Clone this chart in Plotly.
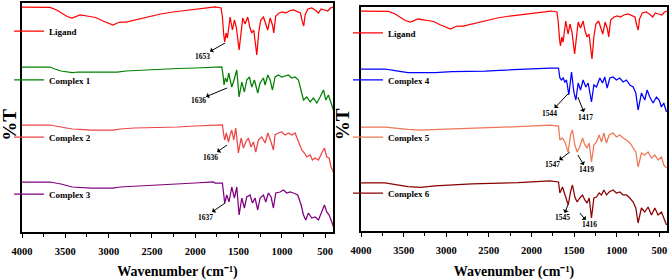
import plotly.graph_objects as go

# ---------------- data (depth below panel top) ----------------
lig_wn = [4000, 3800, 3677, 3600, 3538, 3480, 3423, 3380, 3330, 3250, 3150, 3065, 3000, 2949, 2900, 2868,
          2800, 2700, 2600, 2487, 2400, 2256, 2100, 2002, 1900, 1794, 1771, 1702, 1687, 1671, 1660, 1644,
          1629, 1598, 1571, 1548, 1525, 1494, 1471, 1452, 1425, 1394, 1371, 1348, 1325, 1290, 1267, 1244,
          1213, 1186, 1163, 1136, 1109, 1094, 1071, 1032, 994, 955, 917, 867, 817, 786, 763, 748, 732, 701,
          655, 617, 578, 547, 509, 470, 440, 405]
lig_d = [4, 4, 4.3, 7, 10, 13.5, 15, 13.5, 12, 13, 14.5, 18, 20, 22, 20, 19,
         19, 17, 15, 13, 11, 9, 7.5, 6, 5, 4, 4, 5, 14, 32, 39, 30,
         35, 14, 27, 17, 25, 47, 27, 15, 21, 14, 24, 30, 27, 52, 29, 17,
         14, 22, 27, 15, 22, 30, 13, 10, 9, 10, 8, 7, 9, 10, 19, 23, 12, 6,
         5, 7, 10, 6, 7, 8, 5, 4]

c1_wn = [4000, 3800, 3677, 3620, 3550, 3420, 3350, 3200, 3050, 2949, 2900, 2800, 2600, 2400, 2200, 2002,
         1800, 1771, 1694, 1679, 1668, 1652, 1633, 1614, 1594, 1579, 1552, 1521, 1494, 1463, 1433, 1406,
         1375, 1348, 1317, 1279, 1252, 1213, 1194, 1163, 1136, 1109, 1079, 1040, 1002, 963, 925, 886, 848,
         809, 778, 751, 713, 674, 636, 597, 559, 520, 493, 463, 432, 405]
c1_d = [64, 64, 64, 66, 68, 69.5, 69, 69, 69, 69.5, 69, 68, 67, 66, 65.5, 65,
        64, 64, 64, 72, 82, 75, 79, 70, 77, 84, 77, 67, 94, 79, 89, 77,
        74, 84, 77, 90, 80, 75, 82, 72, 77, 87, 74, 72, 74, 73, 72, 75, 74,
        77, 87, 97, 94, 99, 95, 100, 94, 87, 97, 92, 100, 107]

c2_wn = [4000, 3677, 3550, 3420, 3330, 3200, 2949, 2868, 2700, 2500, 2200, 2002, 1794, 1771, 1687, 1671,
         1660, 1641, 1617, 1598, 1579, 1556, 1533, 1502, 1471, 1444, 1417, 1387, 1356, 1329, 1302, 1271,
         1233, 1194, 1163, 1125, 1098, 1079, 1040, 1002, 963, 925, 886, 848, 809, 771, 740, 713, 674, 647,
         617, 578, 540, 509, 482, 455, 432, 405]
c2_d = [122, 122, 124, 126, 126.3, 127, 127, 126, 125, 124.7, 124, 123, 122, 122, 122, 132,
        137, 130, 139, 132, 127, 137, 125, 150, 135, 145, 139, 135, 144, 139, 149, 137,
        134, 140, 130, 139, 147, 132, 130, 129, 132, 130, 132, 130, 139, 147, 150, 154, 152, 157,
        155, 157, 150, 145, 154, 155, 164, 169]

c3_wn = [4000, 3677, 3550, 3420, 3200, 2949, 2868, 2500, 2002, 1794, 1771, 1687, 1671, 1660, 1637, 1610,
         1579, 1548, 1521, 1494, 1463, 1433, 1406, 1367, 1340, 1310, 1279, 1252, 1213, 1186, 1156, 1125,
         1098, 1071, 1021, 982, 944, 905, 867, 817, 778, 751, 725, 694, 655, 617, 578, 540, 509, 482, 455,
         424, 401]
c3_d = [179, 179, 181, 184, 185, 185, 184, 182, 180, 179, 180, 180, 192, 200, 192, 199,
        184, 195, 184, 212, 195, 205, 194, 192, 200, 195, 207, 195, 192, 199, 190, 194,
        205, 190, 189, 187, 190, 189, 190, 192, 202, 212, 217, 210, 215, 214, 217, 209, 202, 209, 212,
        219, 225]

c4_wn = [4000, 3719, 3601, 3449, 3132, 2933, 2546, 2159, 1784, 1683, 1667, 1648, 1628, 1608, 1589, 1562,
         1530, 1503, 1479, 1452, 1425, 1394, 1362, 1335, 1296, 1268, 1237, 1198, 1167, 1140, 1112, 1081,
         1042, 1003, 964, 925, 886, 846, 807, 776, 749, 710, 671, 643, 612, 573, 534, 502, 475, 448, 416]
c4_d = [62, 62, 63.7, 65.7, 65.7, 64.7, 64, 62.3, 61, 61, 71, 73, 71, 75, 73, 88,
        65, 85, 93, 76, 83, 73, 80, 76, 95, 78, 80, 71, 76, 70, 81, 71,
        70, 73, 71, 75, 73, 78, 80, 86, 103, 86, 93, 83, 90, 96, 90, 93, 100, 96, 105]

c5_wn = [4000, 3719, 3449, 3300, 3000, 2546, 2159, 1784, 1683, 1667, 1636, 1608, 1569, 1542, 1519, 1491,
         1464, 1433, 1401, 1374, 1347, 1323, 1296, 1268, 1237, 1206, 1179, 1151, 1120, 1089, 1042, 1003,
         964, 925, 886, 846, 807, 776, 749, 710, 671, 632, 592, 553, 514, 475, 448, 416]
c5_d = [120, 120, 122.3, 123, 122, 121, 119.7, 118, 119, 133, 131, 135, 145, 128, 123, 138,
        145, 140, 131, 138, 141, 136, 155, 138, 135, 128, 135, 126, 136, 128, 126, 130,
        128, 131, 133, 136, 141, 145, 160, 146, 148, 145, 151, 148, 153, 150, 158, 161]

c6_wn = [4000, 3719, 3449, 3300, 3132, 2700, 2159, 1784, 1683, 1667, 1636, 1608, 1569, 1542, 1519, 1491,
         1464, 1433, 1401, 1374, 1347, 1323, 1296, 1268, 1237, 1206, 1179, 1151, 1120, 1089, 1042, 1003,
         964, 925, 886, 846, 807, 776, 749, 710, 671, 632, 592, 553, 514, 475, 448, 416]
c6_d = [176, 176, 179.7, 180.3, 179, 177, 175.7, 174, 175, 186, 180, 188, 198, 185, 178, 190,
        195, 191, 188, 193, 196, 191, 211, 191, 190, 186, 188, 183, 188, 185, 183, 186,
        185, 188, 188, 191, 195, 201, 216, 201, 205, 200, 208, 201, 208, 205, 211, 218]

names = ["Ligand", "Complex 1", "Complex 2", "Complex 3", "Ligand", "Complex 4", "Complex 5", "Complex 6"]
colors = ["#FF0000", "#008000", "#EE4444", "#800080", "#FF0000", "#0000FF", "#EE7755", "#8B0000"]
panel = [1, 1, 1, 1, 2, 2, 2, 2]
wns = [lig_wn, c1_wn, c2_wn, c3_wn, lig_wn, c4_wn, c5_wn, c6_wn]
deps = [lig_d, c1_d, c2_d, c3_d, lig_d, c4_d, c5_d, c6_d]
legend_x = [-0.02, -0.02, -0.02, -0.02, 0.5054, 0.5054, 0.5054, 0.5054]
legend_y = [0.8777, 0.6638, 0.4148, 0.1659, 0.869, 0.6638, 0.4148, 0.1703]

# peak labels: text, panel, label (wn, depth), arrow tail on the spectrum (wn, depth)
pk_text = ["1653", "1636", "1636", "1637", "1544", "1417", "1547", "1419", "1545", "1416"]
pk_panel = [1, 1, 1, 1, 2, 2, 2, 2, 2, 2]
pk_lab_wn = [1922, 1968, 1829, 1887, 1784, 1362, 1749, 1351, 1632, 1315]
pk_lab_d = [53, 97, 154, 214, 106, 110, 158, 163, 211, 218]
pk_tail_wn = [1656, 1633, 1633, 1656, 1573, 1456, 1550, 1456, 1573, 1433]
pk_tail_d = [40, 85, 142, 200, 87, 90, 145, 148, 198, 206]

x_ticks = [4000, 3500, 3000, 2500, 2000, 1500, 1000, 500]

SERIF = "Liberation Serif"

fig = go.Figure()
for i in range(8):
    ax = "" if panel[i] == 1 else "2"
    lg = "legend" if i == 0 else "legend%d" % (i + 1)
    fig.add_trace(go.Scatter(x=wns[i], y=deps[i], mode="lines", name=names[i],
                             line=dict(color=colors[i], width=1.25),
                             xaxis="x" + ax, yaxis="y" + ax, legend=lg))
    fig.update_layout({lg: dict(x=legend_x[i], y=legend_y[i], xanchor="left", yanchor="middle",
                                bgcolor="rgba(0,0,0,0)", borderwidth=0,
                                font=dict(family=SERIF, size=9, color="black", weight="bold"),
                                itemwidth=30)})

for k in range(len(pk_text)):
    ax = "" if pk_panel[k] == 1 else "2"
    fig.add_annotation(x=pk_tail_wn[k], y=pk_tail_d[k], ax=pk_lab_wn[k], ay=pk_lab_d[k],
                       xref="x" + ax, yref="y" + ax, axref="x" + ax, ayref="y" + ax,
                       text=pk_text[k], showarrow=True, arrowside="start", arrowhead=2,
                       arrowsize=0.8, arrowwidth=1, arrowcolor="black", standoff=0, startstandoff=0,
                       borderpad=0,
                       font=dict(family=SERIF, size=7.5, color="black", weight="bold"))

for xp in [-0.039, 0.4973]:
    fig.add_annotation(x=xp, y=0.47, xref="paper", yref="paper", text="%T", textangle=-90,
                       showarrow=False, font=dict(family=SERIF, size=19, color="black", weight="bold"))

xcommon = dict(range=[4000, 410], tickvals=x_ticks, ticks="outside", ticklen=4, tickwidth=1,
               tickcolor="black", showline=True, linecolor="black", linewidth=1.5, mirror=True,
               showgrid=False, zeroline=False, ticklabelstandoff=5, automargin=False,
               minor=dict(dtick=250, ticklen=3, tickwidth=1, tickcolor="black", ticks="outside", showgrid=False),
               tickfont=dict(family=SERIF, size=10.5, color="black", weight="bold"),
               title=dict(text="Wavenumber (cm\u207b\u00b9)", standoff=20,
                          font=dict(family=SERIF, size=14, color="black", weight="bold")))
ycommon = dict(showticklabels=False, ticks="", showline=True, linecolor="black", linewidth=1.5,
               mirror=True, showgrid=False, zeroline=False)

fig.update_layout(
    width=669, height=280, margin=dict(l=22, r=2, t=3, b=48, autoexpand=False),
    paper_bgcolor="white", plot_bgcolor="white",
    xaxis=dict(domain=[0, 0.4822], anchor="y", **xcommon),
    xaxis2=dict(domain=[0.5256, 1.0], anchor="y2", **xcommon),
    yaxis=dict(domain=[0, 1], anchor="x", range=[229, 0], **ycommon),
    yaxis2=dict(domain=[0.00437, 0.9825], anchor="x2", range=[224, 0], **ycommon),
    showlegend=True,
)

fig.write_html("out.html")
